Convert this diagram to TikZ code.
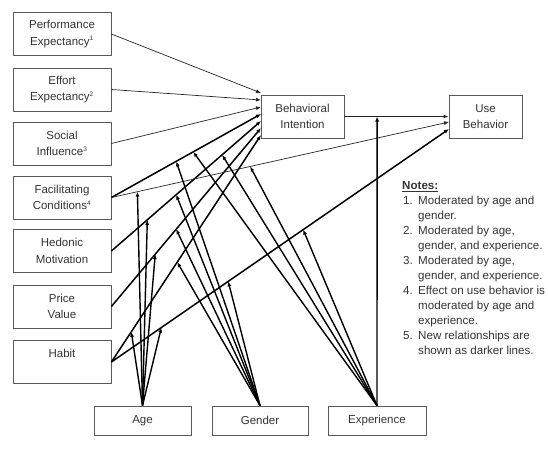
\documentclass[tikz,border=0pt]{standalone}
\usepackage{fontspec}
\setmainfont{Liberation Sans}
\usetikzlibrary{arrows.meta, positioning, calc}

\newcommand{\sups}[1]{\textsuperscript{\fontsize{6.5}{7}\selectfont #1}}

\begin{document}
\begin{tikzpicture}[
    x=1pt, y=-1pt,
    box/.style={draw=black!65, line width=0.8pt, minimum width=98pt, minimum height=43pt,
        inner sep=1pt, align=center, text=black!80, font=\fontsize{11.5}{16.5}\selectfont},
    mbox/.style={box, minimum height=29pt},
    old/.style={-{Latex[length=5pt,width=4pt]}, line width=0.7pt, black!85},
    new/.style={-{Latex[length=5pt,width=4pt]}, line width=1.5pt},
    mod/.style={-{Latex[length=5pt,width=4pt]}, line width=1.4pt}
]
\useasboundingbox (0,0) rectangle (548,453);
% Determinants on the left, one box per construct
\node[box] (PE) at (62,34)    {Performance\\Expectancy\sups{1}};
\node[box] (EE) at (62,89.5)  {Effort\\Expectancy\sups{2}};
\node[box] (SI) at (62,143.5) {Social\\Influence\sups{3}};
\node[box] (FC) at (62,197.5) {Facilitating\\Conditions\sups{4}};
\node[box] (HM) at (62,251)   {Hedonic\\Motivation};
\node[box] (PV) at (62,306.5) {Price\\Value};
\node[box] (HT) at (62,362)   {Habit\\\phantom{Habit}};
% Outcomes
\node[box, minimum width=83pt] (BI) at (302.5,116.5) {Behavioral\\Intention};
\node[box, minimum width=73pt] (UB) at (485.5,116.5) {Use\\Behavior};
% Moderators along the bottom
\node[mbox, minimum width=97pt] (AGE) at (142.5,420.5) {Age};
\node[mbox, minimum width=96pt] (GEN) at (260,420.5)   {Gender};
\node[mbox]                     (EXP) at (377,420.5)   {Experience};
% Entry points on the left side of BI and UB
\coordinate (bPE) at (261,93);
\coordinate (bEE) at (261,100);
\coordinate (bSI) at (261,107);
\coordinate (bFC) at (261,114);
\coordinate (bHM) at (261,121);
\coordinate (bPV) at (261,128);
\coordinate (bHT) at (261,135);
\coordinate (uFC) at (449,122);
\coordinate (uHT) at (449,129);
% Main paths: thin = UTAUT, thick = new in UTAUT2
\draw[old] (PE.east) -- (bPE);
\draw[old] (EE.east) -- (bEE);
\draw[old] (SI.east) -- (bSI);
\draw[new] (FC.east) -- (bFC);
\draw[new] (HM.east) -- (bHM);
\draw[new] (PV.east) -- (bPV);
\draw[new] (HT.east) -- (bHT);
\draw[old, line width=1pt] (BI.east) -- (UB.west);
\draw[old] (FC.east) -- (uFC);
\draw[new] (HT.east) -- (uHT);
% Age moderates
\draw[mod] (AGE.north) -- ($(FC.east)!0.077!(uFC)$);
\draw[mod] (AGE.north) -- ($(HM.east)!0.24!(bHM)$);
\draw[mod] (AGE.north) -- ($(PV.east)!0.293!(bPV)$);
\draw[mod] (AGE.north) -- ($(HT.east)!0.133!(bHT)$);
\draw[mod] (AGE.north) -- ($(HT.east)!0.148!(uHT)$);
% Gender moderates
\draw[mod] (GEN.north) -- ($(FC.east)!0.433!(bFC)$);
\draw[mod] (GEN.north) -- ($(HM.east)!0.433!(bHM)$);
\draw[mod] (GEN.north) -- ($(PV.east)!0.433!(bPV)$);
\draw[mod] (GEN.north) -- ($(HT.east)!0.44!(bHT)$);
\draw[mod] (GEN.north) -- ($(HT.east)!0.346!(uHT)$);
% Experience moderates
\draw[mod] (EXP.north) -- ($(FC.east)!0.547!(bFC)$);
\draw[mod] (EXP.north) -- ($(HM.east)!0.74!(bHM)$);
\draw[mod] (EXP.north) -- ($(FC.east)!0.411!(uFC)$);
\draw[mod] (EXP.north) -- ($(HT.east)!0.568!(uHT)$);
\draw[mod] (EXP.north) -- ($(BI.east)!0.314!(UB.west)$);
% Notes
\node[anchor=north west, inner sep=0pt, text=black!80, font=\fontsize{11.6}{15}\selectfont] (notes) at (402,179) {%
  \begin{tabular}{@{\hspace{1pt}}p{15pt}@{}l@{}}
  \multicolumn{2}{@{}l@{}}{\underline{\textbf{Notes:}}}\\
  1. & Moderated by age and\\
     & gender.\\
  2. & Moderated by age,\\
     & gender, and experience.\\
  3. & Moderated by age,\\
     & gender, and experience.\\
  4. & Effect on use behavior is\\
     & moderated by age and\\
     & experience.\\
  5. & New relationships are\\
     & shown as darker lines.
  \end{tabular}};
\end{tikzpicture}
\end{document}
